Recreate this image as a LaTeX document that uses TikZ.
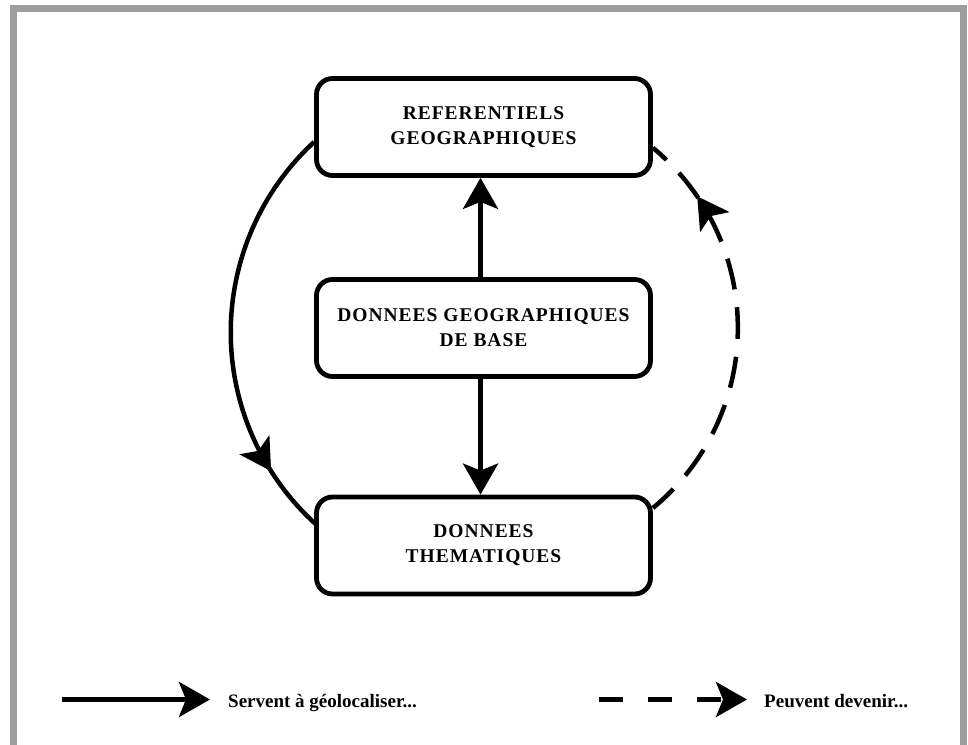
\documentclass[tikz,border=0pt]{standalone}
\usepackage{fontspec}
\setmainfont{Liberation Serif}
\newfontfamily\boxfont{Liberation Serif}[LetterSpace=5]
\usetikzlibrary{arrows.meta,decorations.markings}
\definecolor{framegray}{HTML}{9E9E9E}
\begin{document}
\begin{tikzpicture}[x=1pt,y=1pt,
  box/.style={draw, line width=4.8pt, rounded corners=16pt, minimum width=334pt,
    minimum height=97pt, align=center, inner sep=0pt,
    font=\boxfont\bfseries\fontsize{19.5}{25}\selectfont},
  legendtext/.style={inner sep=0pt, anchor=base west, font=\bfseries\fontsize{19}{23}\selectfont},
  link/.style={line width=4.8pt, -{Stealth[length=31pt,width=35pt,inset=7pt]}},
  dlink/.style={line width=4.8pt, dash pattern=on 24pt off 25pt, -{Stealth[length=31pt,width=35pt,inset=7pt]}},
  midtip/.style={postaction={decorate}, decoration={markings,
    mark=at position #1 with {\arrow{Stealth[length=31pt,width=35pt,inset=7pt]}}}},
  arcline/.style={line width=4.5pt},
  arcdash/.style={line width=4.5pt, dash pattern=on 31.6pt off 18pt, dash phase=3.6pt}
]
\useasboundingbox (0,0) rectangle (968,744);
% frame
\draw[framegray, line width=7pt] (13.5,-10) -- (13.5,735.5) -- (963.5,735.5) -- (963.5,-10);

% boxes
\node[box] (ref)  at (483.5,617)   {REFERENTIELS\\GEOGRAPHIQUES};
\node[box] (base) at (483.5,416)   {DONNEES GEOGRAPHIQUES\\DE BASE};
\node[box] (them) at (483.5,198.5) {DONNEES\\THEMATIQUES};

% straight arrows
\draw[link] ([xshift=-3pt]base.north) -- ([xshift=-3pt]ref.south);
\draw[link] ([xshift=-3pt]base.south) -- ([xshift=-3pt]them.north);

% left arc (solid)
\coordinate (la) at ([yshift=-15pt]ref.west);
\draw[arcline, midtip=0.84] (la) arc[start angle=132.7, end angle=227.6, radius=259];

% right arc (dashed)
\coordinate (ra) at ([yshift=37.5pt]them.east);
\draw[arcdash, midtip=0.84] (ra) arc[start angle=-50.5, end angle=50.5, radius=233.4];

% legend
\coordinate (s1) at (62,44.5);
\coordinate (e1) at (210,44.5);
\draw[link] (s1) -- (e1);
\node[legendtext] (t1) at (228,37) {Servent à géolocaliser...};

\coordinate (s2) at (599,44.5);
\coordinate (e2) at (747,44.5);
\draw[dlink] (s2) -- (e2);
\node[legendtext] (t2) at (764,37) {Peuvent devenir...};
\end{tikzpicture}
\end{document}
